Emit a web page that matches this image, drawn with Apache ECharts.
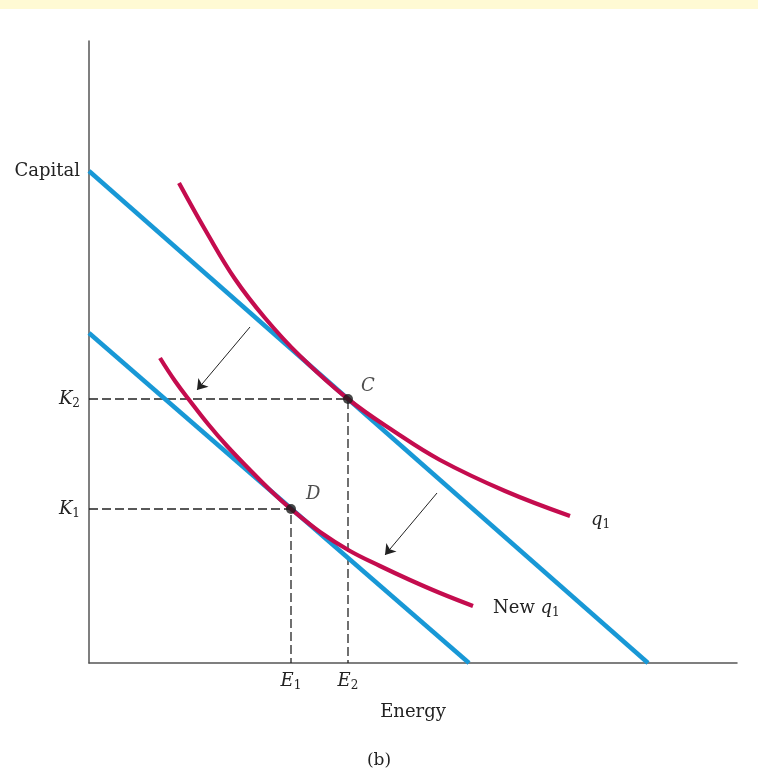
<!DOCTYPE html>
<html>
<head>
<meta charset="utf-8">
<script src="https://cdn.jsdelivr.net/npm/echarts@6/dist/echarts.min.js"></script>
<style>
  html, body { margin: 0; padding: 0; background: #fff; }
  #chart { width: 758px; height: 776px; }
</style>
</head>
<body>
<div id="chart"></div>
<script>
// values in plot units (energy on x, capital on y)
const oldBudget = [[0, 492], [559, 0]]
const newBudget = [[0, 330], [380, 0]]
const q1 = [[90, 480], [118, 430], [146, 384], [176, 345], [211, 307], [259, 264],
            [306, 231], [351, 203], [416, 172], [481, 147]]
const newQ1 = [[71, 305], [86, 282], [101, 262], [119, 239], [138, 217], [161, 193],
               [181, 173], [202, 154], [231, 131], [261, 112], [291, 97], [321, 83],
               [351, 70], [384, 57]]
const pointC = [259, 264]
const pointD = [202, 154]
const arrows = [[[161, 336], [108, 273]], [[348, 170], [296, 108]]]
const yTicks = { 154: 'K1', 264: 'K2', 492: 'Capital' }
const xTicks = { 202: 'E1', 259: 'E2' }

const FONT = 'DejaVu Serif'
const INK = '#222'
const BLUE = '#1898d6'
const RED = '#c40c4e'

const rich = {
    i: { fontFamily: FONT, fontStyle: 'italic', fontSize: 18, color: INK },
    n: { fontFamily: FONT, fontSize: 18, color: INK },
    s: { fontFamily: FONT, fontSize: 12, color: INK, padding: [9, 0, 0, 0] }
}
function sym(txt) {
    // 'K1' -> italic letter + subscript digit
    if (txt.length === 2) return '{i|' + txt[0] + '}{s|' + txt[1] + '}'
    return '{n|' + txt + '}'
}

const dash = { color: '#222', width: 1.3, type: [9, 4] }

const chart = echarts.init(document.getElementById('chart'))
const option = {
    animation: false,
    graphic: [
        { type: 'rect', shape: { x: 0, y: 0, width: 758, height: 9 }, style: { fill: '#fffad4' } },
        { type: 'text', left: 'center', top: 752,
          style: { text: '(b)', font: '17px "DejaVu Serif"', fill: INK } }
    ],
    grid: { left: 89, top: 41, width: 648, height: 622 },
    xAxis: {
        type: 'value', min: 0, max: 648,
        axisLine: { show: true, lineStyle: { color: '#555', width: 1.5 } },
        axisTick: { show: false },
        splitLine: { show: false },
        axisLabel: {
            customValues: [202, 259], margin: 8,
            formatter: v => sym(xTicks[v] || ''), rich: rich
        },
        name: 'Energy', nameLocation: 'middle', nameGap: 40,
        nameTextStyle: { fontFamily: FONT, fontSize: 18, color: INK }
    },
    yAxis: {
        type: 'value', min: 0, max: 622,
        axisLine: { show: true, lineStyle: { color: '#555', width: 1.5 } },
        axisTick: { show: false },
        splitLine: { show: false },
        axisLabel: {
            customValues: [154, 264, 492], margin: 9,
            formatter: v => sym(yTicks[v] || ''), rich: rich
        }
    },
    series: [
        { type: 'line', data: [[0, pointC[1]], pointC, [pointC[0], 0]], symbol: 'none', lineStyle: dash, z: 1 },
        { type: 'line', data: [[0, pointD[1]], pointD, [pointD[0], 0]], symbol: 'none', lineStyle: dash, z: 1 },
        { type: 'line', data: oldBudget, symbol: 'none', lineStyle: { color: BLUE, width: 4.5 }, z: 2 },
        { type: 'line', data: newBudget, symbol: 'none', lineStyle: { color: BLUE, width: 4.5 }, z: 2 },
        {
            type: 'line', data: q1, smooth: 0.4, symbol: 'none',
            lineStyle: { color: RED, width: 4.2 }, z: 3,
            endLabel: { show: true, formatter: '{i|q}{s|1}', rich: rich, offset: [13, 4] }
        },
        {
            type: 'line', data: newQ1, smooth: 0.4, symbol: 'none',
            lineStyle: { color: RED, width: 4.2 }, z: 3,
            endLabel: { show: true, formatter: '{n|New }{i|q}{s|1}', rich: rich, offset: [12, 2] }
        },
        {
            type: 'scatter', symbolSize: 10, itemStyle: { color: '#1a1a1a' }, z: 5,
            data: [
                { value: pointC, label: { show: true, formatter: 'C', position: [18, -17] } },
                { value: pointD, label: { show: true, formatter: 'D', position: [20, -19] } }
            ],
            label: { fontFamily: FONT, fontStyle: 'italic', fontSize: 18, color: INK, align: 'left', verticalAlign: 'top' }
        },
        {
            type: 'line', data: [], z: 4,
            markLine: {
                silent: true, symbol: ['none', 'arrow'], symbolSize: 10,
                label: { show: false },
                lineStyle: { color: '#222', width: 1, type: 'solid' },
                data: arrows.map(a => [{ coord: a[0] }, { coord: a[1] }])
            }
        }
    ]
}
chart.setOption(option)
</script>
</body>
</html>
